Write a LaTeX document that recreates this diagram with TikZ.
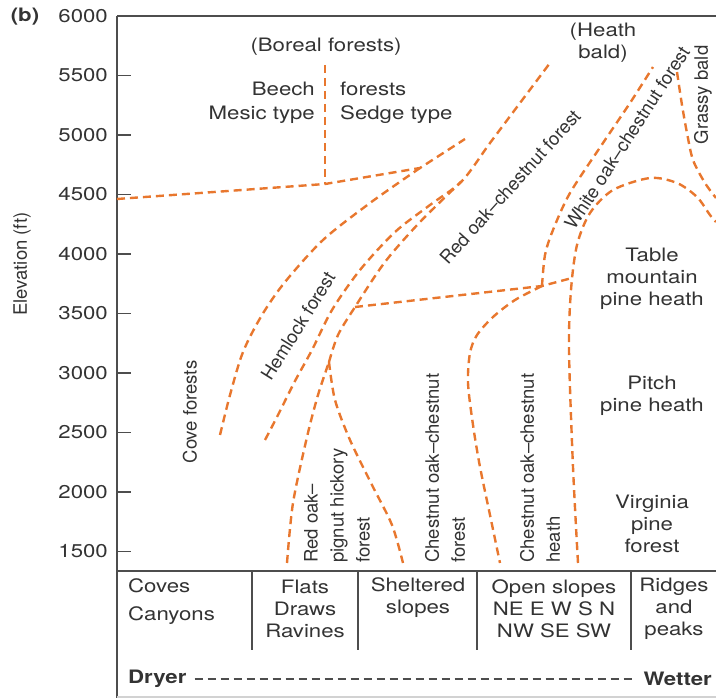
\documentclass[tikz,border=0pt]{standalone}
\usepackage{fontspec}
\setmainfont{TeX Gyre Heros}
\newfontfamily\widefont[FakeStretch=1.2]{TeX Gyre Heros}
\usetikzlibrary{positioning}
\definecolor{zoneorange}{HTML}{E8772E}
\definecolor{inkgray}{HTML}{333333}
\definecolor{framegray}{HTML}{4D4D4D}

\begin{document}
\begin{tikzpicture}[x=1pt, y=-1pt,
    zone/.style={draw=zoneorange, line width=2.4pt, dash pattern=on 8pt off 5pt},
    frameline/.style={draw=framegray, line width=1.6pt},
    lbl/.style={font=\widefont\fontsize{18.5}{22}\selectfont, text=inkgray, align=center, inner sep=0pt},
    boldlbl/.style={lbl, font=\widefont\bfseries\fontsize{18.5}{22}\selectfont},
    rlbl/.style={font=\fontsize{18.5}{26}\selectfont, text=inkgray, align=left, inner sep=0pt}]
  \useasboundingbox (0,0) rectangle (716,700);

  % frame and axis
  \draw[frameline] (117,16) -- (716,16);
  \draw[frameline] (117,16) -- (117,698);
  \draw[framegray, line width=1.3pt] (117,571) -- (716,571);
  \draw[gray!35, line width=1.2pt] (117,697) -- (716,697);
  \foreach \e in {1500,2000,...,6000}{
    \pgfmathsetmacro{\yy}{16+(6000-\e)*0.119}
    \draw[frameline] (117,\yy) -- (131,\yy);
    \node[lbl, anchor=east] (tick\e) at (108,\yy) {\e};
  }
  \node[boldlbl] (panel) at (25,17) {(b)};
  \node[rlbl, rotate=90] (elev) at (22,264) {Elevation (ft)};

  % zone boundaries
  \draw[zone] (325,65) -- (325,184);
  \draw[zone] (117,199) -- (325,184) -- (420,168) -- (465,139);
  \draw[zone] plot[smooth] coordinates {(220,435) (230,395) (243,352) (262,315) (285,282) (323,240) (370,203) (420,168)};
  \draw[zone] plot[smooth] coordinates {(265,440) (278,415) (295,381) (312,350) (332,310) (360,270) (395,232) (430,205) (462,181) (490,143) (520,103) (550,63)};
  \draw[zone] plot[smooth] coordinates {(329,362) (338,335) (355,307) (385,262) (420,222) (462,181)};
  \draw[zone] plot[smooth] coordinates {(287,563) (293,503) (307,437) (318,395) (329,362)};
  \draw[zone] plot[smooth] coordinates {(329,362) (335,400) (350,440) (372,485) (392,525) (403,563)};
  \draw[zone] (355,307) -- (542,286) -- (572,278);
  \draw[zone] plot[smooth] coordinates {(542,286) (545,255) (553,230) (570,193) (603,143) (630,103) (653,67)};
  \draw[zone] plot[smooth] coordinates {(542,286) (515,300) (493,317) (477,335) (470,353) (468,383) (473,425) (480,467) (490,515) (500,563)};
  \draw[zone] plot[smooth] coordinates {(578,563) (573,467) (569,350) (571,290) (577,245) (590,213) (613,190) (650,178) (677,183) (697,197) (710,215) (716,222)};
  \draw[zone] plot[smooth] coordinates {(677,72) (682,105) (687,133) (693,160) (705,183) (716,198)};

  % forest labels
  \node[lbl] (boreal) at (326,47) {(Boreal forests)};
  \node[lbl, align=right, anchor=east, font=\widefont\fontsize{18.5}{24}\selectfont] (beech) at (315,103) {Beech\\Mesic type};
  \node[lbl, align=left, anchor=west, font=\widefont\fontsize{18.5}{24}\selectfont] (sedge) at (340,103) {forests\\Sedge type};
  \node[lbl] (heathbald) at (603,43) {(Heath\\bald)};
  \node[rlbl, rotate=90] (grassy) at (703,95) {Grassy bald};
  \node[rlbl, rotate=57] (whiteoak) at (627,138) {White oak–chestnut forest};
  \node[rlbl, rotate=48] (redoak) at (510,187) {Red oak–chestnut forest};
  \node[rlbl, rotate=58] (hemlock) at (298,326) {Hemlock forest};
  \node[rlbl, rotate=90] (cove) at (190,412) {Cove forests};
  \node[rlbl, rotate=90, anchor=west] (pignut) at (337,563) {Red oak–\\pignut hickory\\forest};
  \node[rlbl, rotate=90, anchor=west] (chestforest) at (445,563) {Chestnut oak–chestnut\\forest};
  \node[rlbl, rotate=90, anchor=west] (chestheath) at (540,563) {Chestnut oak–chestnut\\heath};
  \node[lbl] (tablemtn) at (652,279) {Table\\mountain\\pine heath};
  \node[lbl] (pitch) at (652,396) {Pitch\\pine heath};
  \node[lbl] (virginia) at (652,524) {Virginia\\pine\\forest};

  % site table
  \foreach \xx in {252,358,477,631}
    \draw[framegray, line width=1.3pt] (\xx,571) -- (\xx,650);
  \node[lbl, anchor=west] (coves) at (128,586) {Coves};
  \node[lbl, anchor=west] (canyons) at (128,616) {Canyons};
  \node[lbl] (flats) at (305,609) {Flats\\Draws\\Ravines};
  \node[lbl] (sheltered) at (418,598) {Sheltered\\slopes};
  \node[lbl] (openslopes) at (554,609) {Open slopes\\NE E W S N\\NW SE SW};
  \node[lbl] (ridges) at (674,609) {Ridges\\and\\peaks};
  \node[boldlbl, anchor=west] (dryer) at (128,679) {Dryer};
  \node[boldlbl, anchor=east] (wetter) at (712,679) {Wetter};
  \draw[framegray, line width=1.5pt, dash pattern=on 8pt off 5pt] ([xshift=8pt]dryer.east) -- ([xshift=-8pt]wetter.west);
\end{tikzpicture}
\end{document}
